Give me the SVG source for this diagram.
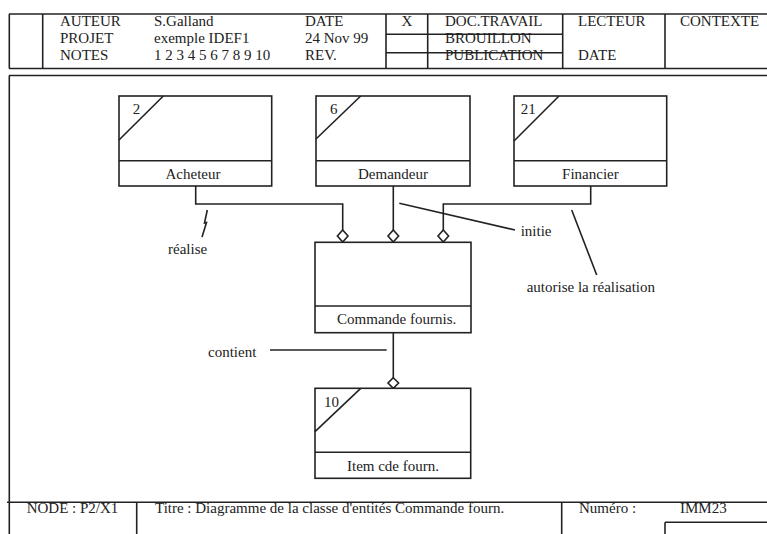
<svg xmlns="http://www.w3.org/2000/svg" width="767" height="534" viewBox="0 0 767 534">
<defs>
<style>
.ln{stroke:#222;stroke-width:1.6;fill:none}
.bx{stroke:#222;stroke-width:1.6;fill:#fff}
.t{font-family:"Liberation Serif","Times New Roman",serif;font-size:15px;fill:#222}
.c{text-anchor:middle}
.dm{stroke:#222;stroke-width:1.6;fill:#fff}
</style>
</defs>
<rect x="0" y="0" width="767" height="534" fill="#fff"/>
<g id="frame">
<line class="ln" x1="9" y1="14" x2="767" y2="14"/>
<line class="ln" x1="9" y1="68.5" x2="767" y2="68.5"/>
<line class="ln" x1="9" y1="75.5" x2="767" y2="75.5"/>
<line class="ln" x1="9.3" y1="14" x2="9.3" y2="68.5"/>
<line class="ln" x1="42.7" y1="14" x2="42.7" y2="68.5"/>
<line class="ln" x1="386" y1="14" x2="386" y2="68.5"/>
<line class="ln" x1="427.7" y1="14" x2="427.7" y2="68.5"/>
<line class="ln" x1="562.7" y1="14" x2="562.7" y2="68.5"/>
<line class="ln" x1="665" y1="14" x2="665" y2="68.5"/>
<line class="ln" x1="386" y1="34.3" x2="562.7" y2="34.3"/>
<line class="ln" x1="386" y1="52.7" x2="562.7" y2="52.7"/>
<line class="ln" x1="9.3" y1="75.5" x2="9.3" y2="534"/>
<line class="ln" x1="7" y1="502.3" x2="767" y2="502.3"/>
<line class="ln" x1="136.7" y1="502.3" x2="136.7" y2="534"/>
<line class="ln" x1="561.7" y1="502.3" x2="561.7" y2="534"/>
<line class="ln" x1="665" y1="522.3" x2="665" y2="534"/>
<line class="ln" x1="665" y1="522.3" x2="767" y2="522.3"/>
<text class="t" x="60" y="25.7">AUTEUR</text>
<text class="t" x="60" y="42.7">PROJET</text>
<text class="t" x="60" y="60">NOTES</text>
<text class="t" x="154" y="25.7">S.Galland</text>
<text class="t" x="154" y="42.7">exemple IDEF1</text>
<text class="t" x="154" y="60">1 2 3 4 5 6 7 8 9 10</text>
<text class="t" x="305" y="25.7">DATE</text>
<text class="t" x="305" y="42.7">24 Nov 99</text>
<text class="t" x="305" y="60">REV.</text>
<text class="t c" x="406.8" y="25.7">X</text>
<text class="t" x="445" y="25.7">DOC.TRAVAIL</text>
<text class="t" x="445" y="42.7">BROUILLON</text>
<text class="t" x="445" y="60">PUBLICATION</text>
<text class="t" x="578" y="25.7">LECTEUR</text>
<text class="t" x="578" y="60">DATE</text>
<text class="t" x="680" y="25.7">CONTEXTE</text>
<text class="t" x="26.7" y="513">NODE : P2/X1</text>
<text class="t" x="155" y="513">Titre : Diagramme de la classe d'entités Commande fourn.</text>
<text class="t" x="579" y="513">Numéro :</text>
<text class="t" x="680" y="513">IMM23</text>
</g>
<g id="connectors">
<polyline class="ln" points="195.7,186 195.7,204 342.7,204 342.7,230"/>
<line class="ln" x1="393.3" y1="186" x2="393.3" y2="230"/>
<polyline class="ln" points="590.7,186 590.7,204 443.3,204 443.3,230"/>
<line class="ln" x1="393.3" y1="333" x2="393.3" y2="377.7"/>
<polygon class="dm" points="342.7,230 348,236 342.7,242 337.4,236"/>
<polygon class="dm" points="393.3,230 398.6,236 393.3,242 388,236"/>
<polygon class="dm" points="443.3,230 448.6,236 443.3,242 438,236"/>
<polygon class="dm" points="393.3,377.7 398.6,383 393.3,388.3 388,383"/>
<polyline class="ln" points="207.3,210 204.5,223 206.5,222.5 202,237"/>
<line class="ln" x1="399.3" y1="203.3" x2="515" y2="230"/>
<line class="ln" x1="571.7" y1="210" x2="596.7" y2="275"/>
<line class="ln" x1="270" y1="350" x2="386.7" y2="350"/>
<text class="t" x="168" y="254">réalise</text>
<text class="t" x="520.7" y="236">initie</text>
<text class="t" x="526.7" y="292">autorise la réalisation</text>
<text class="t" x="208" y="357">contient</text>
</g>
<g id="acheteur">
<rect class="bx" x="119" y="96" width="152.7" height="90"/>
<line class="ln" x1="119" y1="160.7" x2="271.7" y2="160.7"/>
<line class="ln" x1="163.3" y1="96" x2="119" y2="140"/>
<text class="t" x="132.7" y="114">2</text>
<text class="t c" x="193" y="179">Acheteur</text>
</g>
<g id="demandeur">
<rect class="bx" x="316" y="96" width="154" height="90"/>
<line class="ln" x1="316" y1="160.7" x2="470" y2="160.7"/>
<line class="ln" x1="360.7" y1="96" x2="316" y2="139"/>
<text class="t" x="330" y="114">6</text>
<text class="t c" x="393" y="179">Demandeur</text>
</g>
<g id="financier">
<rect class="bx" x="514" y="96" width="152.7" height="90"/>
<line class="ln" x1="514" y1="160.7" x2="666.7" y2="160.7"/>
<line class="ln" x1="559" y1="96" x2="514" y2="141"/>
<text class="t" x="520.7" y="114">21</text>
<text class="t c" x="590.4" y="179">Financier</text>
</g>
<g id="commande">
<rect class="bx" x="315" y="242.3" width="156" height="90.4"/>
<line class="ln" x1="315" y1="306" x2="471" y2="306"/>
<text class="t c" x="396.7" y="324">Commande fournis.</text>
</g>
<g id="item">
<rect class="bx" x="315" y="388.3" width="155.7" height="90"/>
<line class="ln" x1="315" y1="452.3" x2="470.7" y2="452.3"/>
<line class="ln" x1="360.7" y1="388.3" x2="315" y2="431.7"/>
<text class="t" x="324" y="406.7">10</text>
<text class="t c" x="393" y="471">Item cde fourn.</text>
</g>
</svg>
